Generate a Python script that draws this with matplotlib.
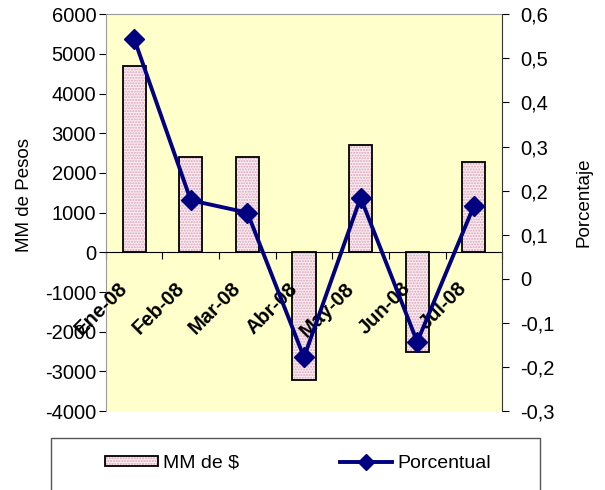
import matplotlib
matplotlib.use("Agg")
import matplotlib.pyplot as plt
from matplotlib.lines import Line2D
from matplotlib.patches import Patch, Rectangle
from matplotlib.legend_handler import HandlerTuple
from matplotlib.ticker import FuncFormatter

plt.rcParams['font.family'] = ['Liberation Sans', 'DejaVu Sans']
plt.rcParams['axes.unicode_minus'] = False

# datos
meses = ['Ene-08', 'Feb-08', 'Mar-08', 'Abr-08', 'May-08', 'Jun-08', 'Jul-08']
mm_pesos = [4700, 2400, 2400, -3220, 2700, -2520, 2270]
porcentual = [0.544, 0.178, 0.150, -0.178, 0.184, -0.143, 0.165]

fs = 14.5
rosa = '#fbeef3'
puntos = '#d9a3b8'

fig = plt.figure(figsize=(6.05, 4.9), dpi=100)
ax = fig.add_axes([0.175, 0.161, 0.655, 0.810])
ax.set_facecolor('#ffffcc')

x = list(range(len(meses)))

# barras con patron punteado rosado
ax.bar(x, mm_pesos, width=0.41, color=rosa, edgecolor=puntos,
       hatch='......', linewidth=0, zorder=2)
ax.bar(x, mm_pesos, width=0.41, fill=False, edgecolor='black',
       linewidth=1.3, zorder=3)

ax.set_xlim(-0.5, len(meses) - 0.5)
ax.set_ylim(-4000, 6000)
ax.set_yticks(range(-4000, 6001, 1000))
ax.tick_params(axis='y', labelsize=fs, length=5, direction='out', pad=2)
ax.set_ylabel('MM de Pesos', fontsize=13.5)
ax.yaxis.set_label_coords(-0.184, 0.544)

# eje x en cero
ax.spines['bottom'].set_position(('data', 0))
ax.spines['bottom'].set_linewidth(0.8)
ax.spines['top'].set_color('#999999')
ax.spines['left'].set_color('#999999')
ax.spines['right'].set_visible(False)
ax.set_xticks([i - 0.5 for i in range(len(meses) + 1)])
ax.set_xticklabels([])
ax.tick_params(axis='x', length=5, direction='out')

for i, m in enumerate(meses):
    ax.annotate(m, xy=(i, 0), xytext=(-7, -24), textcoords='offset points',
                rotation=45, rotation_mode='anchor', ha='right', va='center',
                fontsize=fs, fontweight='bold', zorder=4)

# eje secundario
ax2 = ax.twinx()
ax2.plot(x, porcentual, color='#000080', linewidth=2.8, marker='D',
         markersize=10, zorder=5)
ax2.set_ylim(-0.3, 0.6)
ax2.set_yticks([-0.3, -0.2, -0.1, 0, 0.1, 0.2, 0.3, 0.4, 0.5, 0.6])
ax2.yaxis.set_major_formatter(FuncFormatter(
    lambda v, p: ('%g' % round(v, 1)).replace('.', ',')))
ax2.tick_params(axis='y', labelsize=fs, length=5, direction='out', pad=8)
ax2.set_ylabel('Porcentaje', fontsize=13.5)
ax2.yaxis.set_label_coords(1.184, 0.526)
for s in ['top', 'left', 'bottom']:
    ax2.spines[s].set_visible(False)
ax2.spines['right'].set_color('#333333')

# leyenda con marco propio
barra = (Patch(facecolor=rosa, edgecolor=puntos, hatch='......', linewidth=0),
         Patch(fill=False, edgecolor='black', linewidth=1.3))
linea = Line2D([0], [0], color='#000080', linewidth=2.8, marker='D', markersize=8)
fig.legend([barra, linea], ['MM de $', 'Porcentual'], ncol=2, loc='center left',
           bbox_to_anchor=(105 / 605, 27 / 490), fontsize=14, frameon=False,
           handlelength=2.7, handleheight=0.41, handletextpad=0.26,
           columnspacing=5.2, borderpad=0, borderaxespad=0,
           handler_map={tuple: HandlerTuple(ndivide=1, pad=0)})
fig.patches.append(Rectangle((51 / 605, -0.01), 489 / 605, 0.1161,
                             transform=fig.transFigure, fill=False,
                             edgecolor='#555555', linewidth=1.0))

fig.savefig('out.png', dpi=100)
